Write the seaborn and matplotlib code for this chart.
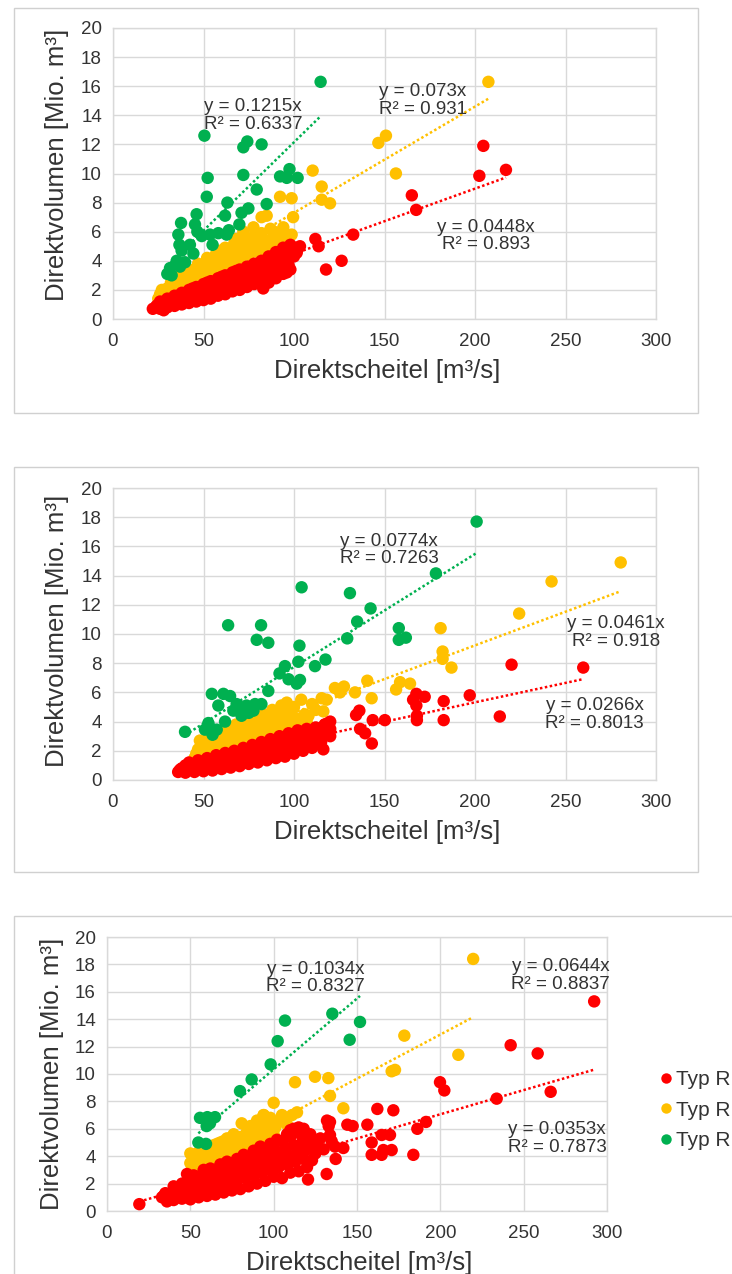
import numpy as np
import pandas as pd
import matplotlib
matplotlib.use("Agg")
import matplotlib.pyplot as plt
from matplotlib.patches import Rectangle
from matplotlib.lines import Line2D
import seaborn as sns

# ---------------- data ----------------
GROUPS = ["rot", "gelb", "gruen"]
LEGEND_LABELS = ["Typ R", "Typ R", "Typ R"]
X_TICKS = [0, 50, 100, 150, 200, 250, 300]
Y_TICKS = [0, 2, 4, 6, 8, 10, 12, 14, 16, 18, 20]
X_LABEL = "Direktscheitel [m³/s]"
Y_LABEL = "Direktvolumen [Mio. m³]"

# Panel 1
P1_RED = [(204.6, 11.9), (202.4, 9.84), (217.1, 10.25), (165.1, 8.5), (167.5, 7.5), (132.7, 5.8),
          (126.3, 4.0), (117.7, 3.4), (111.8, 5.5), (113.6, 5.0), (103.3, 5.0), (101.5, 4.55),
          (96.0, 3.2), (88.6, 2.9), (83.0, 2.1),
          (22, 0.7), (26, 0.7), (30, 0.8), (34, 0.9), (38, 1.0), (42, 1.1), (46, 1.2), (50, 1.3),
          (54, 1.4), (58, 1.6), (62, 1.7), (66, 1.9), (70, 2.0), (74, 2.2), (78, 2.4), (82, 2.6),
          (86, 2.5), (90, 2.8), (94, 3.1), (98, 3.4),
          (24, 0.9), (28, 1.1), (32, 1.2), (36, 1.4), (40, 1.6), (44, 1.8), (48, 2.0), (52, 2.1),
          (56, 2.3), (60, 2.5), (64, 2.7), (68, 2.9), (72, 3.0), (76, 3.2), (80, 3.3), (84, 3.6),
          (88, 3.7), (92, 3.9), (96, 4.1), (100, 4.3),
          (26, 1.2), (30, 1.4), (34, 1.6), (38, 1.8), (42, 2.0), (46, 2.2), (50, 2.4), (54, 2.6),
          (58, 2.8), (62, 3.0), (66, 3.2), (70, 3.4), (74, 3.6), (78, 3.8), (82, 4.0), (86, 4.3),
          (90, 4.6), (94, 4.9), (98, 5.1), (102, 4.8), (91, 4.1), (87, 3.3), (79, 2.9),
          (25, 1.0), (29, 1.1), (33, 1.3), (37, 1.2), (41, 1.5), (45, 1.5), (49, 1.7), (53, 1.8),
          (57, 2.0), (61, 2.1), (65, 2.3), (69, 2.5), (73, 2.6), (77, 2.8), (81, 2.9), (85, 3.0),
          (89, 3.2), (93, 3.5), (97, 3.7), (28, 0.6), (36, 1.6), (44, 2.1), (52, 2.5), (60, 2.9),
          (68, 3.3), (76, 3.6), (84, 3.9), (92, 4.4), (100, 4.9), (96, 4.6), (88, 4.2)]
P1_YELLOW = [(207.4, 16.3), (146.6, 12.1), (150.8, 12.6), (156.3, 10.0), (115.3, 9.1), (115.3, 8.2),
             (119.9, 7.95), (110.3, 10.2), (92.3, 8.4), (98.7, 8.3), (82.1, 7.0), (84.9, 7.1),
             (99.5, 7.0), (94.1, 6.3), (88.6, 5.7), (98.7, 5.8), (77.6, 6.3), (72.0, 6.0),
             (25, 1.4), (30, 1.7), (35, 2.0), (40, 2.3), (45, 2.6), (50, 2.9), (55, 3.2), (60, 3.5),
             (65, 3.8), (70, 4.1), (75, 4.4), (80, 4.6), (85, 4.9), (90, 5.2), (95, 5.6),
             (27, 2.0), (32, 2.5), (37, 3.0), (42, 3.4), (47, 3.8), (52, 4.2), (57, 4.5), (62, 4.9),
             (67, 5.2), (72, 5.4), (77, 5.6), (82, 5.9), (87, 6.2),
             (30, 2.1), (35, 2.6), (40, 2.9), (45, 3.3), (50, 3.6), (55, 4.0), (60, 4.3), (65, 4.6),
             (70, 4.8), (75, 5.0), (80, 5.3),
             (28, 1.6), (33, 2.2), (43, 2.8), (53, 3.4), (63, 4.0), (73, 4.5), (83, 5.0), (92, 5.5),
             (26, 1.7), (31, 1.9), (36, 2.3), (41, 2.6), (46, 2.9), (51, 3.2), (56, 3.6), (61, 3.9),
             (66, 4.2), (71, 4.4), (76, 4.7), (81, 4.9), (86, 5.4), (91, 5.8), (89, 6.0), (33, 2.8),
             (38, 3.2), (48, 3.4), (58, 4.7), (68, 5.5)]
P1_GREEN = [(114.7, 16.3), (50.5, 12.6), (72.0, 11.8), (74.2, 12.2), (82.1, 12.0), (52.3, 9.7),
            (72.0, 9.9), (92.3, 9.8), (97.5, 10.3), (96.0, 9.7), (102.0, 9.7), (51.8, 8.4),
            (79.4, 8.9), (63.2, 8.0), (61.9, 7.1), (84.9, 7.9), (74.8, 7.6), (69.8, 6.5),
            (46.2, 7.2), (37.6, 6.6), (36.1, 5.8), (36.7, 5.1), (45.3, 6.5), (46.6, 6.0),
            (49.0, 5.7), (53.6, 5.8), (58.2, 5.9), (62.8, 5.8), (37.9, 4.7), (42.5, 5.1),
            (44.4, 4.5), (35.2, 4.0), (39.8, 3.9), (31.5, 3.5), (32.4, 3.0), (37.0, 3.6),
            (30.0, 3.1), (55.0, 5.1), (64.0, 6.1), (71.0, 7.3)]

# Panel 2
P2_RED = [(259.8, 7.7), (220.2, 7.9), (213.7, 4.35), (197.1, 5.8), (182.7, 5.4), (182.7, 4.1),
          (167.6, 5.9), (165.8, 5.5), (167.6, 5.1), (172.2, 5.7), (167.9, 4.4), (167.9, 4.1),
          (150.2, 4.1), (143.5, 4.1), (134.3, 4.45), (136.1, 4.75), (136.5, 3.5), (139.3, 3.2),
          (143.0, 2.5), (117.1, 3.8), (118.9, 3.9), (116.2, 2.1), (120, 3.5),
          (36, 0.55), (40, 0.5), (45, 0.55), (50, 0.6), (55, 0.65), (60, 0.75), (65, 0.85),
          (70, 0.95), (75, 1.1), (80, 1.2), (85, 1.35), (90, 1.5), (95, 1.6), (100, 1.8),
          (105, 2.0), (110, 2.2), (115, 2.6), (120, 3.0),
          (38, 0.8), (43, 0.9), (48, 1.0), (53, 1.1), (58, 1.25), (63, 1.4), (68, 1.55), (73, 1.7),
          (78, 1.85), (83, 2.0), (88, 2.2), (93, 2.35), (98, 2.5), (103, 2.7), (108, 2.9),
          (113, 3.1), (118, 3.4),
          (42, 1.2), (47, 1.35), (52, 1.5), (57, 1.7), (62, 1.85), (67, 2.0), (72, 2.2), (77, 2.4),
          (82, 2.6), (87, 2.8), (92, 3.0), (97, 3.2), (102, 3.4), (107, 3.5), (112, 3.6),
          (117, 3.8), (120, 4.0),
          (37, 0.7), (41, 0.75), (46, 0.8), (51, 0.85), (56, 0.9), (61, 1.0), (66, 1.15), (71, 1.3),
          (76, 1.4), (81, 1.55), (86, 1.7), (91, 1.85), (96, 2.0), (101, 2.2), (106, 2.4),
          (111, 2.6), (116, 3.0),
          (40, 1.0), (45, 1.1), (50, 1.25), (55, 1.4), (60, 1.55), (65, 1.7), (70, 1.85), (75, 2.05),
          (80, 2.25), (85, 2.45), (90, 2.6), (95, 2.8), (100, 3.0), (105, 3.2), (110, 3.3),
          (115, 3.5)]
P2_YELLOW = [(280.5, 14.9), (242.3, 13.6), (224.4, 11.4), (181.0, 10.4), (182.1, 8.8), (182.1, 8.3),
             (187.0, 7.7), (140.5, 6.8), (127.6, 6.4), (122.6, 6.3), (125.4, 6.0), (133.7, 6.0),
             (142.9, 5.6), (158.6, 6.7), (156.4, 6.2), (164.1, 6.6), (115.3, 5.6), (116.2, 4.7),
             (104, 5.5), (110, 5.2), (118, 5.5), (112, 4.8), (108, 4.4),
             (45, 1.5), (50, 1.7), (55, 1.9), (60, 2.1), (65, 2.3), (70, 2.5), (75, 2.7), (80, 2.9),
             (85, 3.1), (90, 3.3), (95, 3.5), (100, 3.6), (105, 3.8),
             (47, 2.1), (52, 2.4), (57, 2.7), (62, 2.9), (67, 3.1), (72, 3.4), (77, 3.6), (82, 3.8),
             (87, 4.0), (92, 4.2), (97, 4.4), (102, 4.2), (107, 4.0),
             (48, 2.7), (53, 3.0), (58, 3.2), (63, 3.5), (68, 3.8), (73, 4.0), (78, 4.3), (83, 4.5),
             (88, 4.8), (93, 5.1), (96, 5.3), (100, 5.0),
             (46, 1.8), (51, 2.0), (56, 2.2), (61, 2.5), (66, 2.7), (71, 2.9), (76, 3.1), (81, 3.3),
             (86, 3.5), (91, 3.7), (96, 3.9), (101, 4.0), (106, 4.5), (49, 2.4), (54, 2.6), (59, 2.9),
             (64, 3.2), (69, 3.5), (74, 3.7), (79, 4.0), (84, 4.2), (89, 4.4), (94, 4.7), (99, 4.8)]
P2_GREEN = [(104.2, 13.2), (63.6, 10.6), (81.8, 10.6), (79.4, 9.6), (85.8, 9.4), (103.0, 9.2),
            (102.4, 8.1), (103.3, 6.85), (101.5, 6.6), (111.6, 7.8), (117.4, 8.25), (95.0, 7.8),
            (92.0, 7.3), (97.0, 6.9), (54.6, 5.9), (61.0, 5.9), (64.7, 5.75), (85.8, 6.1),
            (58.2, 5.1), (68.3, 5.2), (73.8, 5.1), (78.5, 5.2), (82.0, 5.2), (66.5, 4.75),
            (71.0, 4.4), (77.6, 4.75), (52.7, 3.9), (50.8, 3.45), (57.3, 3.45), (61.9, 4.0),
            (39.8, 3.3), (55.0, 3.1), (53.0, 3.7), (70.0, 5.0), (75.0, 4.6), (200.9, 17.7),
            (178.4, 14.15), (130.9, 12.8), (142.3, 11.75), (134.9, 10.85), (129.4, 9.7),
            (157.9, 10.4), (157.9, 9.6), (161.8, 9.75)]

# Panel 3
P3_RED = [(292.3, 15.3), (242.2, 12.1), (258.4, 11.5), (266.2, 8.7), (233.8, 8.2), (199.8, 9.4),
          (202.4, 8.8), (191.4, 6.5), (186.2, 6.0), (162.2, 7.45), (171.8, 7.35), (156.2, 6.3),
          (144.2, 6.3), (147.4, 6.2), (164.8, 5.55), (169.8, 5.55), (158.8, 5.0), (165.8, 4.45),
          (170.8, 4.45), (158.8, 4.1), (164.8, 4.1), (183.8, 4.1), (133.8, 6.5), (133.8, 5.55),
          (134.8, 5.1), (136.8, 4.7), (141.8, 4.6), (137.2, 3.8), (131.8, 2.7), (120.6, 2.3),
          (19.4, 0.5),
          (33, 1.0), (36, 0.7), (40, 0.8), (45, 0.9), (50, 0.85), (55, 1.0), (60, 1.1), (65, 1.2),
          (70, 1.35), (75, 1.5), (80, 1.6), (85, 1.8), (90, 2.0), (95, 2.2), (100, 2.5), (105, 2.4),
          (110, 2.8), (115, 2.9), (120, 3.2),
          (35, 1.3), (40, 1.4), (45, 1.5), (50, 1.6), (55, 1.8), (60, 2.0), (65, 2.2), (70, 2.4),
          (75, 2.6), (80, 2.8), (85, 3.0), (90, 3.2), (95, 3.4), (100, 3.6), (105, 3.8), (110, 4.0),
          (115, 4.2), (120, 4.5), (125, 4.2),
          (40, 1.8), (45, 2.0), (50, 2.3), (55, 2.5), (60, 2.7), (65, 2.9), (70, 3.1), (75, 3.3),
          (80, 3.6), (85, 3.9), (90, 4.2), (95, 4.5), (100, 4.8), (105, 5.1), (110, 5.4), (115, 5.7),
          (118, 6.0), (122, 5.6), (126, 5.0), (130, 4.5),
          (48, 2.7), (58, 3.0), (68, 3.4), (78, 3.8), (88, 4.4), (98, 4.9), (108, 5.6), (112, 6.0),
          (120, 5.3), (128, 5.3), (132, 6.6), (133, 6.2),
          (34, 1.1), (38, 1.1), (43, 1.2), (48, 1.3), (53, 1.4), (58, 1.55), (63, 1.7), (68, 1.85),
          (73, 2.0), (78, 2.2), (83, 2.4), (88, 2.6), (93, 2.8), (98, 3.0), (103, 3.2), (108, 3.4),
          (113, 3.6), (118, 3.8), (123, 3.7),
          (42, 1.6), (47, 1.8), (52, 2.0), (57, 2.2), (62, 2.4), (67, 2.6), (72, 2.8), (77, 3.0),
          (82, 3.3), (87, 3.6), (92, 3.8), (97, 4.1), (102, 4.3), (107, 4.6), (112, 4.8), (117, 5.0),
          (122, 4.9), (127, 4.6), (52, 2.6), (62, 3.1), (72, 3.6), (82, 4.1), (92, 4.7), (102, 5.2),
          (110, 5.9), (115, 6.1)]
P3_YELLOW = [(219.7, 18.4), (178.4, 12.8), (210.8, 11.4), (170.8, 10.2), (172.8, 10.3), (124.8, 9.8),
             (132.8, 9.7), (133.8, 8.4), (141.8, 7.5), (112.8, 9.4), (100, 7.9), (94, 7.0), (92, 6.6),
             (111, 7.0), (114, 7.2), (80.8, 6.4),
             (50, 2.8), (53, 3.0), (56, 3.2), (60, 3.4), (65, 3.7), (70, 3.9), (75, 4.2), (80, 4.5),
             (85, 4.8), (90, 5.1), (95, 5.4), (100, 5.6),
             (50, 3.5), (54, 3.8), (58, 4.1), (62, 4.0), (66, 4.4), (70, 4.6), (74, 4.9), (78, 5.2),
             (83, 5.5), (88, 5.8), (92, 6.0), (97, 6.2), (103, 6.5),
             (50, 4.2), (55, 4.3), (60, 4.5), (64, 4.8), (68, 5.0), (72, 5.3), (76, 5.6), (80, 5.4),
             (84, 5.8), (90, 6.6), (94, 7.0), (105, 7.0), (108, 6.3),
             (51, 3.1), (55, 3.5), (59, 3.7), (63, 3.6), (67, 4.1), (71, 4.3), (76, 4.5), (81, 4.8),
             (86, 5.2), (91, 5.5), (96, 5.8), (101, 6.1), (52, 3.9), (57, 4.4), (62, 4.6), (66, 4.9),
             (70, 5.1), (75, 5.4), (86, 6.2), (98, 6.8)]
P3_GREEN = [(106.8, 13.9), (102.4, 12.4), (98.2, 10.7), (86.8, 9.6), (79.8, 8.75), (55.8, 6.8),
            (60.2, 6.85), (64.8, 6.85), (59.8, 6.2), (61.8, 6.4), (54.8, 5.0), (59.4, 4.9),
            (135.2, 14.4), (151.8, 13.8), (145.6, 12.5)]

SLOPES = [[0.0448, 0.073, 0.1215], [0.0266, 0.0461, 0.0774], [0.0353, 0.0644, 0.1034]]
R2 = [["0.893", "0.931", "0.6337"], ["0.8013", "0.918", "0.7263"], ["0.7873", "0.8837", "0.8327"]]
SLOPE_TXT = [["0.0448", "0.073", "0.1215"], ["0.0266", "0.0461", "0.0774"], ["0.0353", "0.0644", "0.1034"]]

PANELS = [
    {"rot": P1_RED, "gelb": P1_YELLOW, "gruen": P1_GREEN},
    {"rot": P2_RED, "gelb": P2_YELLOW, "gruen": P2_GREEN},
    {"rot": P3_RED, "gelb": P3_YELLOW, "gruen": P3_GREEN},
]

# ---------------- style / layout ----------------
COLORS = {"rot": "#FF0000", "gelb": "#FFC000", "gruen": "#00B050"}
TXT = "#333333"
GRID = "#D9D9D9"
W, H = 732, 1274

sns.set_theme(style="white")
plt.rcParams["font.family"] = ["Liberation Sans", "DejaVu Sans"]

fig = plt.figure(figsize=(W / 100, H / 100), dpi=100)
fig.patch.set_facecolor("white")

# axes rectangles in pixels: left, top, right, bottom
AX_PX = [(113, 28, 656, 319), (113, 488, 656, 780), (107, 937, 607, 1211)]
BOX_PX = [(14, 8, 698, 413), (14, 467, 698, 872), (14, 916, 745, 1290)]
# annotation centres (data coords) per group order rot, gelb, gruen
ANN_POS = [
    [(206, 5.7), (171, 15.0), (77.3, 14.0)],
    [(266, 4.5), (278, 10.1), (152.5, 15.75)],
    [(270, 5.3), (272, 17.2), (125, 17.0)],
]
YLAB_POS = [(-0.103, 0.53), (-0.103, 0.51), (-0.11, 0.5)]
XLAB_POS = [(0.505, -0.179), (0.505, -0.179), (0.504, -0.19)]

for (l, t, r, b) in BOX_PX:
    fig.patches.append(Rectangle((l / W, 1 - b / H), (r - l) / W, (b - t) / H,
                                 transform=fig.transFigure, fill=False,
                                 edgecolor="#D0D0D0", linewidth=1.0, zorder=0))

draw_order = ["gelb", "rot", "gruen"]
for i, panel in enumerate(PANELS):
    l, t, r, b = AX_PX[i]
    ax = fig.add_axes([l / W, 1 - b / H, (r - l) / W, (b - t) / H])
    ax.set_facecolor("white")
    frames = []
    for g in draw_order:
        arr = np.array(panel[g], dtype=float)
        frames.append(pd.DataFrame({"x": arr[:, 0], "y": arr[:, 1], "grp": g}))
    df = pd.concat(frames, ignore_index=True)
    sns.scatterplot(data=df, x="x", y="y", hue="grp", palette=COLORS, s=80,
                    linewidth=0, legend=False, ax=ax, zorder=3)
    for k, g in enumerate(GROUPS):
        sub = df[df.grp == g]
        xs = np.array([sub.x.min(), sub.x.max()])
        ax.plot(xs, SLOPES[i][k] * xs, color=COLORS[g], lw=1.8,
                linestyle=(0, (1, 1)), zorder=4)
        px, py = ANN_POS[i][k]
        ax.text(px, py, f"y = {SLOPE_TXT[i][k]}x\nR² = {R2[i][k]}", ha="center",
                va="center", multialignment="center", fontsize=13.5, color=TXT,
                linespacing=1.05, zorder=5)
    ax.set_xlim(0, 300)
    ax.set_ylim(0, 20)
    ax.set_xticks(X_TICKS)
    ax.set_yticks(Y_TICKS)
    ax.grid(True, color=GRID, linewidth=1.0, zorder=0)
    ax.set_axisbelow(True)
    for sp in ax.spines.values():
        sp.set_color(GRID)
        sp.set_linewidth(1.0)
    ax.tick_params(axis="both", length=0, labelsize=13.5, labelcolor=TXT)
    ax.tick_params(axis="x", pad=10)
    ax.tick_params(axis="y", pad=8)
    ax.set_xlabel(X_LABEL, fontsize=18.5, color=TXT, va="center")
    ax.set_ylabel(Y_LABEL, fontsize=18.5, color=TXT, va="center")
    ax.xaxis.set_label_coords(*XLAB_POS[i])
    ax.yaxis.set_label_coords(*YLAB_POS[i])

handles = [Line2D([0], [0], marker="o", linestyle="", markersize=7.5,
                  markerfacecolor=COLORS[g], markeredgewidth=0) for g in GROUPS]
fig.legend(handles, LEGEND_LABELS, loc="center left",
           bbox_to_anchor=(645 / W, 1 - 1110 / H), frameon=False, fontsize=15,
           handletextpad=0.0, labelspacing=0.55, handlelength=1.0, borderpad=0,
           labelcolor=TXT)

fig.savefig("out.png", dpi=100, facecolor="white")
